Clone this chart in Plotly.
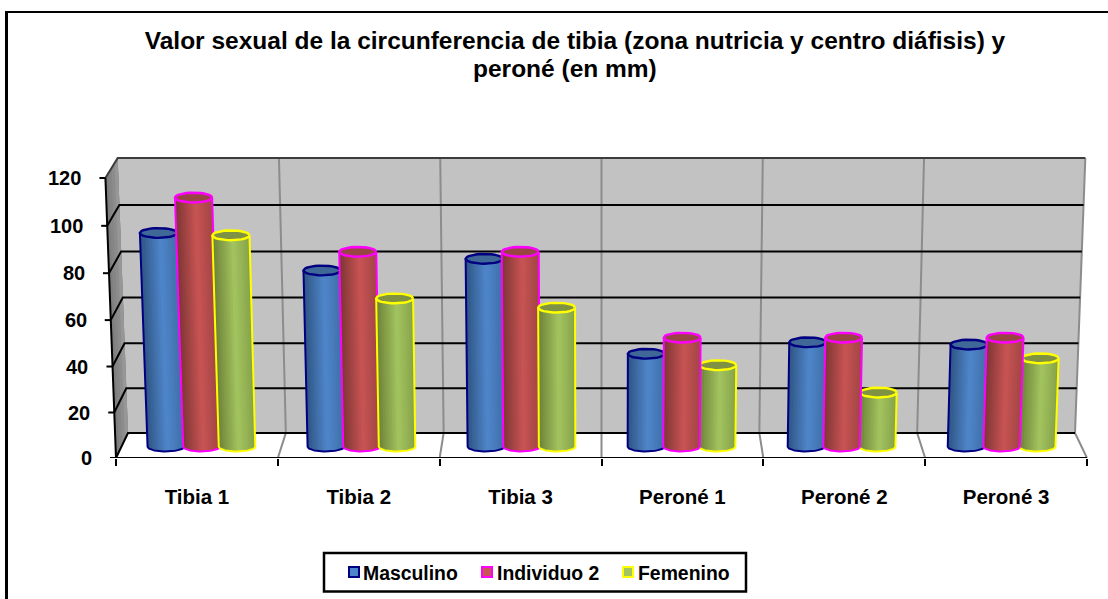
import math
import plotly.graph_objects as go

categories = ["Tibia 1", "Tibia 2", "Tibia 3", "Peroné 1", "Peroné 2", "Peroné 3"]
masculino = [93, 77, 82, 41, 46, 45]
individuo2 = [108, 85, 85, 48, 48, 48]
femenino = [92, 65, 61, 36, 24, 39]
y_ticks = [0, 20, 40, 60, 80, 100, 120]
title_line_1 = "Valor sexual de la circunferencia de tibia (zona nutricia y centro diáfisis) y"
title_line_2 = "peroné (en mm)"

FONT = "Liberation Sans"
W, H = 1108, 599
L, R, T, B = 80, 8, 140, 141
CAT_PX, VAL_PX = 971 / 6, 280 / 120
BAR_D, BAR_HALF, BAR_STEP, CAP_H, BASE_H = 0.45, 0.114, 0.2225, 2.1, 2.0

series = [
    dict(name="Masculino", vals=masculino, line="#000080", left="#2f5583", mid="#4f86cb", right="#3e6ea8", cap="#3f6797",
         swatch=348, label=363),
    dict(name="Individuo 2", vals=individuo2, line="#ff00ff", left="#7c3534", mid="#c95454", right="#a04544", cap="#984644",
         swatch=481, label=497),
    dict(name="Femenino", vals=femenino, line="#ffff00", left="#6c8138", mid="#a3c45f", right="#86a24a", cap="#7f9142",
         swatch=622, label=638),
]


def px(X, v, d):
    s = (1 - 0.0247 * d) * (1 + 0.0218 * v / 120)
    return 2.5 + (X - 2.5) * s


def py(v, d):
    return v * (1 + 0.03 * (v / 120 - 1)) * (1 - 0.018 * d) + 10.7 * d


def mix(a, b, t):
    ca = [int(a[i:i + 2], 16) for i in (1, 3, 5)]
    cb = [int(b[i:i + 2], 16) for i in (1, 3, 5)]
    return "#%02x%02x%02x" % tuple(round(p + (q - p) * t) for p, q in zip(ca, cb))


def poly(xs, ys, fill, line=None, width=0):
    return go.Scatter(x=xs, y=ys, mode="lines", fill="toself", fillcolor=fill,
                      line=dict(color=line or fill, width=width), showlegend=False,
                      hoverinfo="skip", cliponaxis=False)


def path(xs, ys, color, width=2):
    return go.Scatter(x=xs, y=ys, mode="lines", line=dict(color=color, width=width),
                      showlegend=False, hoverinfo="skip", cliponaxis=False)


def paper_x(p):
    return (p - L) / (W - L - R)


def paper_y(p):
    return (H - B - p) / (H - T - B)


ring = [(math.cos(2 * math.pi * k / 32), math.sin(2 * math.pi * k / 32)) for k in range(33)]

fig = go.Figure()

# ---- walls and floor
n = len(categories)
x0, x1 = -0.5, n - 0.5
fig.add_trace(poly([px(x0, 0, 1), px(x1, 0, 1), px(x1, 120, 1), px(x0, 120, 1)],
                   [py(0, 1), py(0, 1), py(120, 1), py(120, 1)], "#c2c2c2"))
for k, c in enumerate(["#7e7e7e", "#858585", "#8c8c8c", "#979797"]):
    d0, d1 = k / 4, 1
    fig.add_trace(poly([px(x0, 0, d0), px(x0, 0, d1), px(x0, 120, d1), px(x0, 120, d0)],
                       [py(0, d0), py(0, d1), py(120, d1), py(120, d0)], c))
for b in range(1, n + 1):
    X = b - 0.5
    fig.add_trace(path([px(X, 0, 0), px(X, 0, 1), px(X, 120, 1)],
                       [py(0, 0), py(0, 1), py(120, 1)], "#8c8c8c", 2))
for v in y_ticks[1:-1]:
    fig.add_trace(path([px(x0, v, 0), px(x0, v, 1), px(x1, v, 1)], [py(v, 0), py(v, 1), py(v, 1)], "#000000", 2))
fig.add_trace(path([px(x0, 0, 0), px(x0, 0, 1), px(x1, 0, 1)], [py(0, 0), py(0, 1), py(0, 1)], "#000000", 2))
fig.add_trace(path([px(x0, 120, 0), px(x0, 120, 1), px(x1, 120, 1)], [py(120, 0), py(120, 1), py(120, 1)], "#3c3c3c", 2))
# front axis lines and value ticks
fig.add_trace(path([x0, x1], [0, 0], "#000000", 2))
fig.add_trace(path([px(x0, v, 0) for v in y_ticks], [py(v, 0) for v in y_ticks], "#000000", 2))
for v in y_ticks:
    fig.add_trace(path([px(x0, v, 0) - 0.037, px(x0, v, 0)], [py(v, 0), py(v, 0)], "#000000", 2))

# ---- cylinders
STRIPS = 16
ARC = [-1 + 2 * j / 32 for j in range(33)]


def base_y(a):
    return py(0, BAR_D) - BASE_H * max(0.0, 1 - a * a) ** 0.5


def cylinder_traces(s_idx, cats):
    s = series[s_idx]
    out = []
    xs_by_strip = [[] for _ in range(STRIPS)]
    ys_by_strip = [[] for _ in range(STRIPS)]
    ox, oy, cx, cy = [], [], [], []
    for i in cats:
        val = s["vals"][i]
        X = i + (s_idx - 1) * BAR_STEP
        top = py(val, BAR_D)
        for k in range(STRIPS):
            a = -1 + 2 * k / STRIPS
            arc = [q for q in ARC if q >= a - 1e-9]
            xs_by_strip[k] += [px(X + a * BAR_HALF, val, BAR_D)] + [px(X + q * BAR_HALF, 0, BAR_D) for q in arc] + \
                              [px(X + BAR_HALF, val, BAR_D), None]
            ys_by_strip[k] += [top] + [base_y(q) for q in arc] + [top, None]
        ox += [px(X - BAR_HALF, val, BAR_D)] + [px(X + q * BAR_HALF, 0, BAR_D) for q in ARC] + \
              [px(X + BAR_HALF, val, BAR_D), None]
        oy += [top] + [base_y(q) for q in ARC] + [top, None]
        cx += [px(X + c * BAR_HALF, val, BAR_D) for c, _ in ring] + [None]
        cy += [top + q * CAP_H for _, q in ring] + [None]
    for k in range(STRIPS):
        t = (k + 0.5) / STRIPS
        color = mix(s["left"], s["mid"], t / 0.55) if t < 0.55 else mix(s["mid"], s["right"], (t - 0.55) / 0.45)
        out.append(poly(xs_by_strip[k], ys_by_strip[k], color))
    out.append(path(ox, oy, s["line"], 2))
    out.append(poly(cx, cy, s["cap"], s["line"], 2.4))
    return out


for cats, order in (([0, 1, 2], [0, 1, 2]), ([3, 4, 5], [0, 2, 1])):
    for s_idx in order:
        fig.add_traces(cylinder_traces(s_idx, cats))

TEXT = dict(family=FONT, color="#000000", weight=700)
annotations = [dict(x=px(x0, v, 0), y=py(v, 0), xref="x", yref="y", text=str(v), showarrow=False,
                    xanchor="right", yanchor="middle", xshift=-22, font=dict(size=20, **TEXT)) for v in y_ticks]
annotations.append(dict(x=paper_x(565), y=paper_y(69), xref="paper", yref="paper", text=title_line_2,
                        showarrow=False, xanchor="center", yanchor="middle", font=dict(size=24.5, **TEXT)))

# ---- legend box
shapes = [
    dict(type="line", xref="paper", yref="paper", x0=paper_x(6.5), x1=paper_x(6.5), y0=paper_y(11), y1=paper_y(599),
         line=dict(color="#000000", width=3)),
    dict(type="line", xref="paper", yref="paper", x0=paper_x(5), x1=paper_x(W), y0=paper_y(12), y1=paper_y(12),
         line=dict(color="#000000", width=2)),
    dict(type="rect", xref="paper", yref="paper", x0=paper_x(324), x1=paper_x(746), y0=paper_y(553), y1=paper_y(591.5),
         line=dict(color="#000000", width=2.5), fillcolor="#ffffff"),
]
for s in series:
    shapes.append(dict(type="rect", xref="paper", yref="paper", x0=paper_x(s["swatch"] + 1), x1=paper_x(s["swatch"] + 11),
                       y0=paper_y(567), y1=paper_y(577), line=dict(color=s["line"], width=2), fillcolor=s["mid"]))
    annotations.append(dict(x=paper_x(s["label"]), y=paper_y(573), xref="paper", yref="paper", text=s["name"],
                            showarrow=False, xanchor="left", yanchor="middle", xshift=-2, font=dict(size=19.4, **TEXT)))

fig.update_layout(
    width=W, height=H, autosize=False,
    margin=dict(l=L, r=R, t=T, b=B),
    paper_bgcolor="#ffffff", plot_bgcolor="rgba(0,0,0,0)",
    font=dict(family=FONT, color="#000000"),
    title=dict(text=title_line_1, x=575 / W, xanchor="center", y=1 - 40 / H, yanchor="middle",
               font=dict(size=24.5, **TEXT)),
    xaxis=dict(range=[x0 - (116 - L) / CAT_PX, x1 + (W - R - 1087) / CAT_PX], tickmode="array",
               tickvals=list(range(n)), ticktext=categories,
               ticks="", showgrid=False, zeroline=False, showline=False,
               ticklabelstandoff=24, tickfont=dict(size=20.5, **TEXT),
               minor=dict(tickmode="array", tickvals=[b - 0.5 for b in range(n + 1)], ticks="outside",
                          ticklen=7, tickwidth=2, tickcolor="#000000", showgrid=False)),
    yaxis=dict(range=[0, 120 + (178 - T) / VAL_PX], visible=False),
    showlegend=False,
    annotations=annotations,
    shapes=shapes,
)

fig.write_html("out.html", post_script="document.body.style.margin='0';", config=dict(displayModeBar=False))
